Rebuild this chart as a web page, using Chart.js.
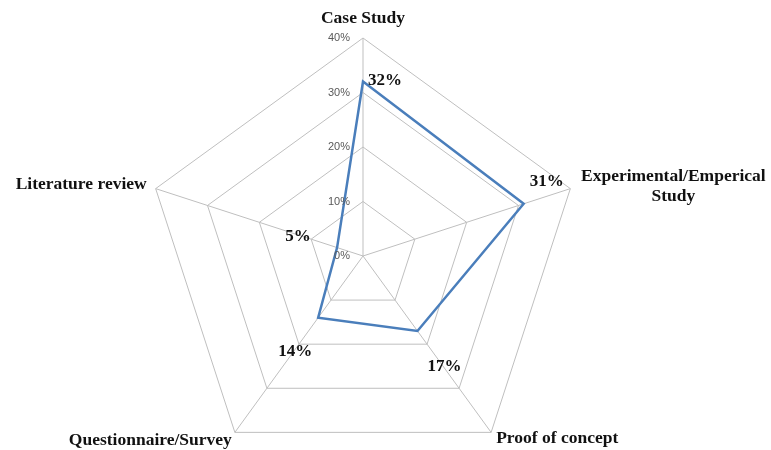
<!DOCTYPE html>
<html><head><meta charset="utf-8">
<script src="https://cdn.jsdelivr.net/npm/chart.js@4/dist/chart.umd.min.js"></script>
<style>html,body{margin:0;padding:0;background:#fff}canvas{display:block}</style>
</head><body>
<canvas id="c" width="771" height="450"></canvas>
<script>
const categories = [['Case Study'], ['Experimental/Emperical', 'Study'], ['Proof of concept'], ['Questionnaire/Survey'], ['Literature review']];
const shares = [32, 31, 17, 14, 5];
const tickValues = [0, 10, 20, 30, 40];
const tickLabels = ['0%', '10%', '20%', '30%', '40%'];
const valueLabels = shares.map(v => v + '%');

// label placement styles (offsets from the drawn marks)
const catLabelStyle = [
  {dx: 0, dy: -20, align: 'center'},
  {dx: 103, dy: -12, align: 'center'},
  {dx: 5, dy: 6, align: 'left'},
  {dx: -3, dy: 8, align: 'right'},
  {dx: -9, dy: -4, align: 'right'}
];
const valLabelStyle = [
  {dx: 22, dy: -1}, {dx: 23, dy: -22}, {dx: 27, dy: 36}, {dx: -23, dy: 34}, {dx: -39, dy: -11}
];

const serif = "'Liberation Serif', 'Times New Roman', serif";

const labelPlugin = {
  id: 'labels',
  afterDraw(chart) {
    const ctx = chart.ctx;
    const s = chart.scales.r;
    ctx.save();
    // tick labels
    ctx.font = "11px 'Liberation Sans', Arial, sans-serif";
    ctx.fillStyle = '#595959';
    ctx.textAlign = 'right';
    ctx.textBaseline = 'middle';
    tickValues.forEach((v, i) => {
      const d = s.getDistanceFromCenterForValue(v);
      ctx.fillText(tickLabels[i], s.xCenter - 13, s.yCenter - d);
    });
    // category labels
    ctx.font = "bold 17.5px " + serif;
    ctx.fillStyle = '#111';
    categories.forEach((lines, i) => {
      const p = s.getPointPosition(i, s.drawingArea);
      const st = catLabelStyle[i];
      ctx.textAlign = st.align;
      lines.forEach((t, j) => {
        ctx.fillText(t, p.x + st.dx, p.y + st.dy + j * 20);
      });
    });
    // value labels
    ctx.font = "bold 17px " + serif;
    ctx.textAlign = 'center';
    const meta = chart.getDatasetMeta(0);
    meta.data.forEach((pt, i) => {
      const st = valLabelStyle[i];
      ctx.fillText(valueLabels[i], pt.x + st.dx, pt.y + st.dy);
    });
    ctx.restore();
  }
};

new Chart(document.getElementById('c'), {
  type: 'radar',
  data: {
    labels: categories,
    datasets: [{
      data: shares,
      borderColor: '#4a7ebb',
      borderWidth: 2.5,
      fill: false,
      pointRadius: 0,
      pointHoverRadius: 0,
      tension: 0
    }]
  },
  options: {
    responsive: false,
    animation: false,
    devicePixelRatio: 1,
    plugins: {legend: {display: false}, tooltip: {enabled: false}},
    scales: {
      r: {
        min: 0, max: 40,
        ticks: {stepSize: 10, display: false},
        pointLabels: {display: false},
        grid: {color: '#bfbfbf', lineWidth: 1},
        angleLines: {color: '#bfbfbf', lineWidth: 1},
        afterFit(scale) {
          scale.xCenter = 363;
          scale.yCenter = 256;
          scale.drawingArea = 218;
        }
      }
    }
  },
  plugins: [labelPlugin]
});
</script>
</body></html>
